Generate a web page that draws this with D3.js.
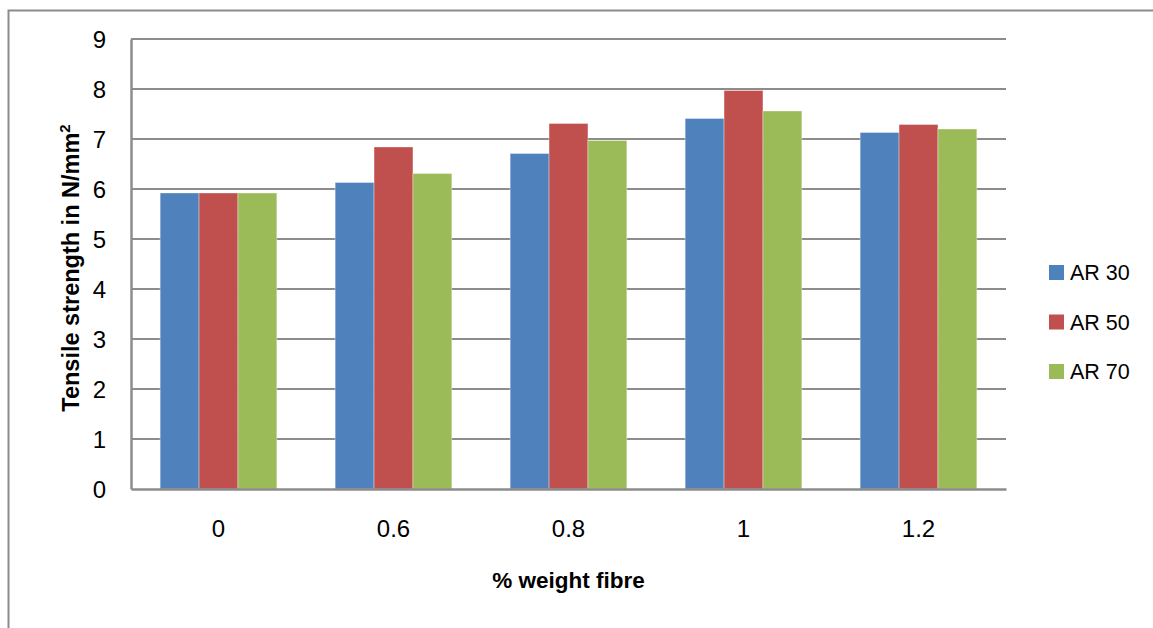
<!DOCTYPE html>
<html><head><meta charset="utf-8">
<script src="https://cdn.jsdelivr.net/npm/d3@7"></script>
<style>body{margin:0;background:#fff}svg{display:block}text{font-family:"Liberation Sans",Arial,sans-serif;fill:#000}</style>
</head><body><svg id="c" width="1153" height="628"></svg>
<script>
const categories = ["0", "0.6", "0.8", "1", "1.2"];
const seriesNames = ["AR 30", "AR 50", "AR 70"];
const ar30 = [5.92, 6.13, 6.71, 7.41, 7.13];
const ar50 = [5.92, 6.84, 7.31, 7.97, 7.29];
const ar70 = [5.92, 6.31, 6.97, 7.56, 7.20];
const yTicks = [0,1,2,3,4,5,6,7,8,9];
const colors = ["#4f81bd", "#c0504d", "#9bbb59"];
const series = [ar30, ar50, ar70];

const svg = d3.select("#c");
const L = 131, R = 1006, T = 39, B = 489;
const FF = "'Liberation Sans',Arial,sans-serif";

svg.append("rect").attr("x",8.5).attr("y",10.5).attr("width",1200).attr("height",700)
  .attr("fill","none").attr("stroke","#8c8c8c").attr("stroke-width",2);

const x = d3.scaleBand().domain(categories).range([L,R]).paddingInner(0).paddingOuter(0);
const y = d3.scaleLinear().domain([0,9]).range([B,T]);
const barW = x.bandwidth()/4.5;

// gridlines
svg.append("g").selectAll("line").data(yTicks.filter(d=>d>0)).join("line")
  .attr("x1",L).attr("x2",R).attr("y1",d=>y(d)).attr("y2",d=>y(d))
  .attr("stroke","#8c8c8c").attr("stroke-width",2);

// y axis
const ya = svg.append("g").attr("transform",`translate(${L},0)`)
  .call(d3.axisLeft(y).tickValues(yTicks).tickSize(0).tickPadding(25).tickFormat(d3.format("d")));
ya.select(".domain").attr("stroke","#8c8c8c").attr("stroke-width",2.5);
ya.selectAll("text").attr("font-size",24).attr("font-family",FF).attr("dy","0.35em");

// bars
series.forEach((s,si)=>{
  svg.append("g").selectAll("rect").data(s).join("rect")
    .attr("x",(d,i)=>x(categories[i]) + x.bandwidth()/2 - 1.5*barW + si*barW)
    .attr("width",barW)
    .attr("y",d=>y(d)).attr("height",d=>B-y(d))
    .attr("fill",colors[si]).attr("stroke","rgba(255,255,255,0.35)").attr("stroke-width",1);
});

// x axis
const xa = svg.append("g").attr("transform",`translate(0,${B})`)
  .call(d3.axisBottom(x).tickSize(0).tickPadding(0));
xa.select(".domain").attr("stroke","#8c8c8c").attr("stroke-width",2.5);
xa.selectAll("text").attr("font-size",24).attr("font-family",FF).attr("dy",null).attr("y",48);

// axis titles
svg.append("text").attr("x",(L+R)/2).attr("y",588).attr("text-anchor","middle")
  .attr("font-size",22.5).attr("font-weight","bold").attr("font-family",FF)
  .text("% weight fibre");
const yt = svg.append("text").attr("transform",`translate(79,268) rotate(-90)`).attr("text-anchor","middle")
  .attr("font-size",23.5).attr("font-weight","bold").attr("font-family",FF);
yt.append("tspan").text("Tensile strength in N/mm");
yt.append("tspan").attr("dy",-9).attr("font-size",15).text("2");

// legend
const lg = svg.append("g").selectAll("g").data(seriesNames).join("g")
  .attr("transform",(d,i)=>`translate(1049,${265 + i*49.5})`);
lg.append("rect").attr("width",15).attr("height",15).attr("fill",(d,i)=>colors[i]);
lg.append("text").attr("x",21).attr("y",7.5).attr("dy","0.36em").attr("font-size",21.5).attr("font-family",FF)
  .text(d=>d);
</script></body></html>
